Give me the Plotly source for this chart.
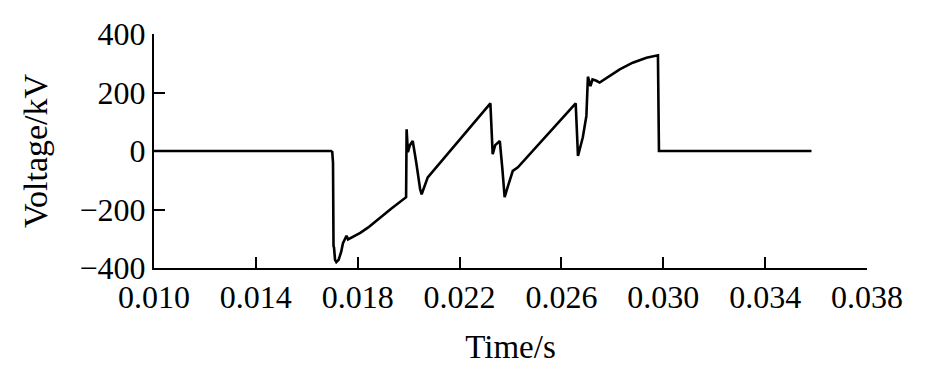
import plotly.graph_objects as go

# Time (s) and voltage (kV)
time_s = [0.0100, 0.01695, 0.01700, 0.01703, 0.01705, 0.01707, 0.01711, 0.01716, 0.01725,
          0.01735, 0.01742, 0.01756, 0.01762, 0.01780, 0.01810, 0.01840, 0.01870, 0.01900,
          0.01930, 0.01960, 0.01990, 0.01992, 0.01997, 0.02005, 0.02016, 0.02030, 0.02045,
          0.02051, 0.02060, 0.02075, 0.02321, 0.02330, 0.02340, 0.02358, 0.02368, 0.02377,
          0.02390, 0.02409, 0.02429, 0.02593, 0.02656, 0.02665, 0.02684, 0.02698, 0.02704,
          0.02714, 0.02722, 0.02737, 0.02750, 0.02829, 0.02880, 0.02934, 0.02979, 0.02983,
          0.03582]
voltage_kv = [0, 0, -3, -40, -325, -330, -372, -380, -372,
              -345, -315, -290, -302, -294, -280, -262, -242, -220,
              -198, -177, -158, 74, -4, 20, 34, -40, -130,
              -148, -128, -90, 163, -11, 20, 34, -60, -158,
              -120, -68, -56, 103, 163, -17, 47, 120, 254,
              222, 245, 240, 234, 279, 302, 319, 327, 0,
              0]

x_ticks = [0.010, 0.014, 0.018, 0.022, 0.026, 0.030, 0.034, 0.038]
y_ticks = [-400, -200, 0, 200, 400]

font_family = "Liberation Serif, Times New Roman, Times, serif"
ink = "#000000"

fig = go.Figure()
fig.add_trace(go.Scatter(x=time_s, y=voltage_kv, mode="lines",
                         line=dict(color=ink, width=2.6), showlegend=False))

fig.update_layout(
    width=933, height=380,
    margin=dict(l=154, r=66, t=34, b=112),
    paper_bgcolor="white", plot_bgcolor="white",
    font=dict(family=font_family, size=32, color=ink),
)
fig.update_xaxes(
    range=[0.010, 0.038], tickvals=x_ticks, tickformat=".3f",
    ticks="inside", ticklen=11, tickwidth=1.6, tickcolor=ink,
    showline=True, linecolor=ink, linewidth=2, showgrid=False, zeroline=False,
    title=dict(text="Time/s", font=dict(family=font_family, size=33), standoff=20),
    tickfont=dict(family=font_family, size=32),
)
fig.update_yaxes(
    range=[-400, 400], tickvals=y_ticks,
    ticks="inside", ticklen=11, tickwidth=1.6, tickcolor=ink,
    showline=True, linecolor=ink, linewidth=2, showgrid=False, zeroline=False,
    title=dict(text="Voltage/kV", font=dict(family=font_family, size=34), standoff=22),
    tickfont=dict(family=font_family, size=32),
)

fig.write_html("out.html")
